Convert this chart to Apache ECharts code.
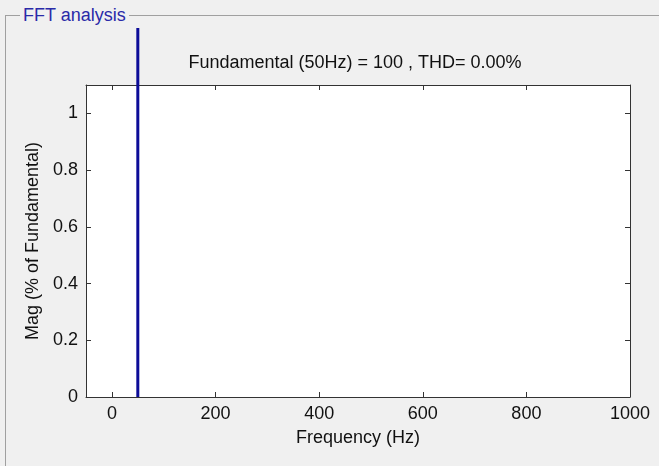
<!DOCTYPE html>
<html>
<head>
<meta charset="utf-8">
<script src="https://cdn.jsdelivr.net/npm/echarts@6/dist/echarts.min.js"></script>
<style>
  html, body { margin: 0; padding: 0; background: #f0f0f0; }
  #page { position: relative; width: 659px; height: 466px; overflow: hidden; background: #f0f0f0; }
  #frame { position: absolute; left: 5px; top: 15px; width: 700px; height: 500px;
           border-left: 1px solid #a0a0a0; border-top: 1px solid #a0a0a0; }
  #legend { position: absolute; left: 20px; top: 4px; padding: 0 3px; background: #f0f0f0;
            color: #2a2aa8; font: 18px "Liberation Sans", Arial, sans-serif; line-height: 22px; }
  #chart { position: absolute; left: 0; top: 28px; width: 659px; height: 438px; }
</style>
</head>
<body>
<div id="page">
  <div id="frame"></div>
  <div id="legend">FFT analysis</div>
  <div id="chart"></div>
</div>
<script>
// spectrum bars: frequency (Hz) and magnitude (% of fundamental)
const freqs = [50];
const mags = [100];
const xTicks = [0, 200, 400, 600, 800, 1000];
const yTicks = [0, 0.2, 0.4, 0.6, 0.8, 1];
const titleText = 'Fundamental (50Hz) = 100 , THD= 0.00%';

const font = '"Liberation Sans", Arial, sans-serif';
const axisColor = '#333';
const textColor = '#111';

const chart = echarts.init(document.getElementById('chart'), null, { renderer: 'canvas' });

const baseX = {
  type: 'value',
  min: -50,
  max: 1000,
  axisLine: { show: true, onZero: false, lineStyle: { color: axisColor, width: 1 } },
  axisTick: { show: true, inside: true, length: 5, customValues: xTicks, lineStyle: { color: axisColor } },
  splitLine: { show: false },
};
const baseY = {
  type: 'value',
  min: 0,
  max: 1.1,
  axisLine: { show: true, onZero: false, lineStyle: { color: axisColor, width: 1 } },
  axisTick: { show: true, inside: true, length: 5, customValues: yTicks, lineStyle: { color: axisColor } },
  splitLine: { show: false },
};

chart.setOption({
  animation: false,
  grid: {
    left: 86, top: 57, width: 544, height: 312,
    show: true, backgroundColor: '#fff', borderWidth: 0,
  },
  graphic: [{
    type: 'text',
    x: 355, y: 35,
    style: {
      text: titleText, fill: textColor, font: '18px ' + font,
      textAlign: 'center', textVerticalAlign: 'middle',
    },
  }],
  xAxis: [
    Object.assign({}, baseX, {
      position: 'bottom',
      name: 'Frequency (Hz)',
      nameLocation: 'middle',
      nameGap: 32,
      nameTextStyle: { color: textColor, fontSize: 18, fontFamily: font },
      axisLabel: {
        show: true, customValues: xTicks, margin: 8, color: textColor, fontSize: 18, fontFamily: font,
        formatter: v => String(v),
      },
    }),
    Object.assign({}, baseX, { position: 'top', axisLabel: { show: false } }),
  ],
  yAxis: [
    Object.assign({}, baseY, {
      position: 'left',
      name: 'Mag (% of Fundamental)',
      nameLocation: 'middle',
      nameRotate: 90,
      nameGap: 42,
      nameTextStyle: { color: textColor, fontSize: 18, fontFamily: font },
      axisLabel: {
        show: true, customValues: yTicks, margin: 8, color: textColor, fontSize: 18, fontFamily: font,
        formatter: v => String(v),
      },
    }),
    Object.assign({}, baseY, { position: 'right', axisLabel: { show: false } }),
  ],
  series: [{
    type: 'bar',
    xAxisIndex: 0,
    yAxisIndex: 0,
    data: freqs.map((f, i) => [f, mags[i]]),
    barWidth: 3,
    clip: false,
    itemStyle: { color: '#0c0c98' },
  }],
});
</script>
</body>
</html>
